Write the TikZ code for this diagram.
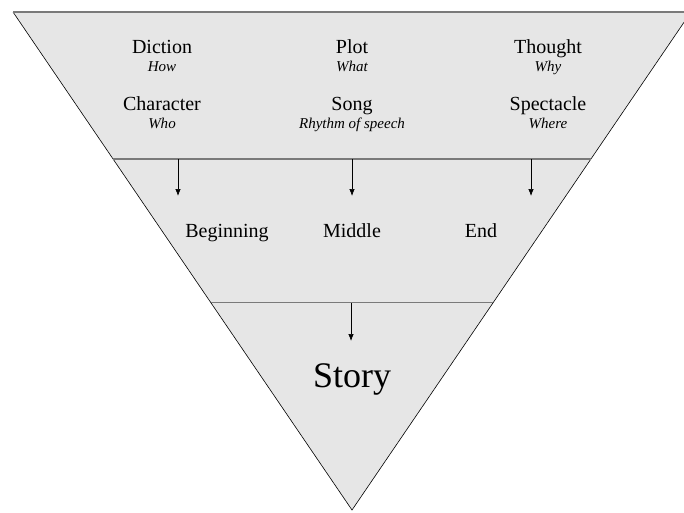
\documentclass[tikz,border=0pt]{standalone}
\usepackage{fontspec}
\setmainfont{Liberation Serif}
\usetikzlibrary{arrows.meta,positioning,calc}
\definecolor{funnelgray}{HTML}{E6E6E6}
\definecolor{bandline}{HTML}{7A7A7A}

\begin{document}
\begin{tikzpicture}[x=1pt, y=-1pt, font=\fontsize{20}{24}\selectfont,
    head/.style={inner sep=0pt, anchor=base},
    sub/.style={inner sep=0pt, font=\fontsize{15}{18}\selectfont\itshape},
    down/.style={-{Latex[length=7pt,width=5.5pt]}, line width=0.7pt},
    band/.style={draw=bandline, line width=1.3pt}]
    \useasboundingbox (0,0) rectangle (684,512);

    % Funnel outline
    \coordinate (tl) at (13,12);
    \coordinate (tr) at (691,12);
    \coordinate (apex) at (352,510);
    \fill[funnelgray] (tl) -- (tr) -- (apex) -- cycle;
    \draw[line width=0.6pt] (tr) -- (apex) -- (tl);
    \draw[band] (tl) -- (tr);

    % Band dividers
    \coordinate (b1l) at ($(tl)!0.295!(apex)$);
    \coordinate (b1r) at ($(tr)!0.295!(apex)$);
    \coordinate (b2l) at ($(tl)!0.584!(apex)$);
    \coordinate (b2r) at ($(tr)!0.584!(apex)$);
    \draw[band] (b1l) -- (b1r);
    \draw[band] (b2l) -- (b2r);

    % Top band: six elements
    \node[head] (diction) at (162,53) {Diction};
    \node[sub, below=18pt of diction.base, anchor=base] (how) {How};
    \node[head] (plot) at (352,53) {Plot};
    \node[sub, below=18pt of plot.base, anchor=base] (what) {What};
    \node[head] (thought) at (548,53) {Thought};
    \node[sub, below=18pt of thought.base, anchor=base] (why) {Why};

    \node[head] (character) at (162,110) {Character};
    \node[sub, below=18pt of character.base, anchor=base] (who) {Who};
    \node[head] (song) at (352,110) {Song};
    \node[sub, below=18pt of song.base, anchor=base] (rhythm) {Rhythm of speech};
    \node[head] (spectacle) at (548,110) {Spectacle};
    \node[sub, below=18pt of spectacle.base, anchor=base] (where) {Where};

    % Middle band: structure
    \node[head] (beginning) at (227,237) {Beginning};
    \node[head] (middle) at (352,237) {Middle};
    \node[head] (end) at (481,237) {End};

    % Bottom band
    \node[head, font=\fontsize{36}{40}\selectfont] (story) at (352,387) {Story};

    % Arrows
    \coordinate (s1) at (178,159);  \coordinate (e1) at (178,196);
    \coordinate (s2) at (352,159);  \coordinate (e2) at (352,196);
    \coordinate (s3) at (531,159);  \coordinate (e3) at (531,196);
    \coordinate (s4) at (351,303);  \coordinate (e4) at (351,341);
    \draw[down] (s1) -- (e1);
    \draw[down] (s2) -- (e2);
    \draw[down] (s3) -- (e3);
    \draw[down] (s4) -- (e4);
\end{tikzpicture}
\end{document}
